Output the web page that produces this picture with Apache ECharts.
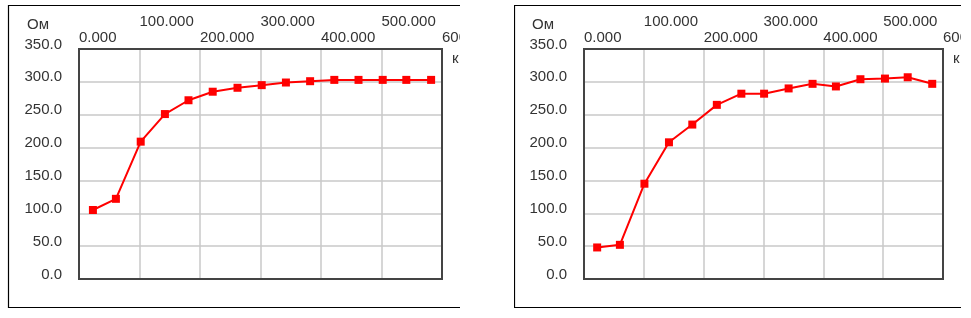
<!DOCTYPE html>
<html>
<head>
<meta charset="utf-8">
<script src="https://cdn.jsdelivr.net/npm/echarts@6/dist/echarts.min.js"></script>
<style>
html,body{margin:0;padding:0;background:#fff;}
#c{width:971px;height:318px;}
</style>
</head>
<body>
<div id="c"></div>
<script>
// Data
var kmLeft = [23, 61, 102, 142, 181, 221, 262, 302, 342, 382, 422, 462, 502, 541, 582];
var omLeft = [105, 122, 209, 251, 272, 285, 291, 295, 299, 301, 303, 303, 303, 303, 303];
var kmRight = [22, 60, 101, 142, 181, 222, 263, 301, 342, 382, 421, 462, 503, 541, 582];
var omRight = [48, 52, 145, 208, 235, 265, 282, 282, 290, 297, 293, 304, 305, 307, 297];
var xTicks = [0, 100, 200, 300, 400, 500, 600];
var yTicks = [0, 50, 100, 150, 200, 250, 300, 350];
var yName = 'Ом';
var xName = 'к';

function pairs(xs, ys){ return xs.map(function(x,i){ return [x, ys[i]]; }); }

var FONT = '"Liberation Sans", Arial, sans-serif';
var TXT = '#333';

function xAxisFor(gi){
  return {
    type:'value', gridIndex:gi, position:'top',
    min:xTicks[0], max:xTicks[xTicks.length-1], interval:xTicks[1]-xTicks[0],
    name:xName, nameLocation:'end', nameGap:10, nameMoveOverlap:false,
    nameTextStyle:{color:TXT, fontFamily:FONT, fontSize:15, align:'left', verticalAlign:'top', lineHeight:20},
    axisLine:{show:false, onZero:false}, axisTick:{show:false},
    axisLabel:{
      color:TXT, fontFamily:FONT, fontSize:15, lineHeight:16, margin:3, align:'left',
      showMinLabel:true, showMaxLabel:true, hideOverlap:false,
      formatter:function(v){
        var idx = xTicks.indexOf(v);
        var s = v.toFixed(3);
        return (idx % 2 === 1) ? s + '\n ' : s;
      }
    },
    splitLine:{show:true, showMinLine:false, showMaxLine:false, lineStyle:{color:'#c8c8c8', width:1.5}}
  };
}
function yAxisFor(gi){
  return {
    type:'value', gridIndex:gi,
    min:yTicks[0], max:yTicks[yTicks.length-1], interval:yTicks[1]-yTicks[0],
    name:yName, nameLocation:'end', nameGap:24, nameMoveOverlap:false,
    nameTextStyle:{color:TXT, fontFamily:FONT, fontSize:15, align:'right', verticalAlign:'middle', padding:[0,30,0,0]},
    axisLine:{show:false, onZero:false}, axisTick:{show:false},
    axisLabel:{
      color:TXT, fontFamily:FONT, fontSize:15, margin:17, verticalAlign:'bottom', lineHeight:9,
      formatter:function(v){ return v.toFixed(1); }
    },
    splitLine:{show:true, showMinLine:false, showMaxLine:false, lineStyle:{color:'#c8c8c8', width:1.5}}
  };
}
function seriesFor(gi, data){
  return {
    type:'line', xAxisIndex:gi, yAxisIndex:gi, data:data,
    symbol:'rect', symbolSize:8, showSymbol:true,
    lineStyle:{color:'#ff0000', width:2},
    itemStyle:{color:'#ff0000'},
    animation:false, silent:true
  };
}

var chart = echarts.init(document.getElementById('c'), null, {renderer:'canvas'});
chart.setOption({
  animation:false,
  backgroundColor:'#ffffff',
  grid:[
    {left:79, top:49, width:363, height:230, show:true, z:3, borderColor:'#444', borderWidth:2, backgroundColor:'transparent', outerBoundsMode:'none', containLabel:false},
    {left:584, top:49, width:359, height:230, show:true, z:3, borderColor:'#444', borderWidth:2, backgroundColor:'transparent', outerBoundsMode:'none', containLabel:false}
  ],
  xAxis:[xAxisFor(0), xAxisFor(1)],
  yAxis:[yAxisFor(0), yAxisFor(1)],
  series:[seriesFor(0, pairs(kmLeft, omLeft)), seriesFor(1, pairs(kmRight, omRight))],
  graphic:[
    {type:'rect', z:-1, shape:{x:8.5, y:5.5, width:470, height:302}, style:{fill:'none', stroke:'#000', lineWidth:1.2}},
    {type:'rect', z:-1, shape:{x:514.5, y:5.5, width:500, height:302}, style:{fill:'none', stroke:'#000', lineWidth:1.2}},
    {type:'rect', z:100, shape:{x:460, y:0, width:54, height:318}, style:{fill:'#fff'}},
    {type:'rect', z:100, shape:{x:961, y:0, width:20, height:318}, style:{fill:'#fff'}}
  ]
});
</script>
</body>
</html>
